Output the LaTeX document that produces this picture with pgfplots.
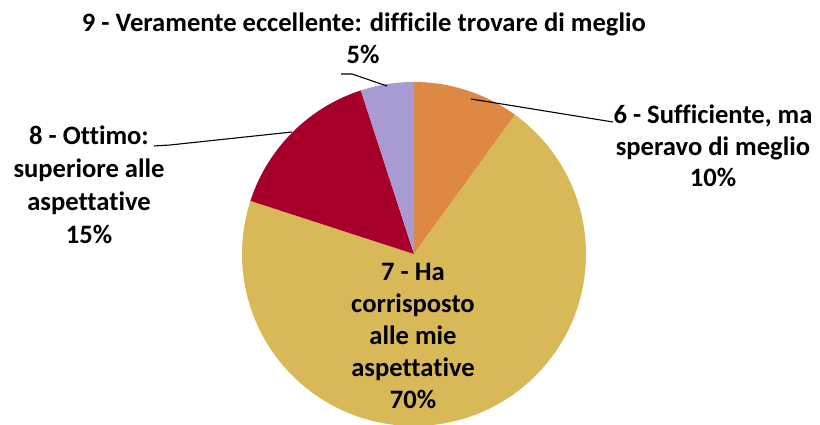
\documentclass[border=0pt]{standalone}
\usepackage{pgfplots}
\pgfplotsset{compat=1.18}
\usepackage{fontspec}
\setmainfont{Carlito}[Ligatures=NoCommon]
\definecolor{cSix}{RGB}{221,136,67}
\definecolor{cSeven}{RGB}{217,184,87}
\definecolor{cEight}{RGB}{166,0,42}
\definecolor{cNine}{RGB}{168,155,210}
% shares (percent), clockwise from 12 o'clock
\def\pSix{10}
\def\pSeven{70}
\def\pEight{15}
\def\pNine{5}
\def\R{172}
\pgfmathsetmacro{\aA}{90}
\pgfmathsetmacro{\aB}{\aA-3.6*\pSix}
\pgfmathsetmacro{\aC}{\aB-3.6*\pSeven}
\pgfmathsetmacro{\aD}{\aC-3.6*\pEight}
\pgfmathsetmacro{\aE}{\aD-3.6*\pNine}
\newcommand{\lbl}[3]{\node[anchor=base,inner sep=0pt,font=\fontsize{26.6}{32}\selectfont\bfseries] at (axis cs:#1,#2) {#3};}
\begin{document}
\begin{tikzpicture}
\begin{axis}[
  x=1pt, y=1pt, scale only axis,
  xmin=-414, xmax=406, ymin=-170, ymax=254,
  hide axis, clip=true,
]
\addplot[fill=cSix, draw=none, data cs=polar, domain=\aA:\aB, samples=30] {\R} -- (axis cs:0,0) -- cycle;
\addplot[fill=cSeven, draw=none, data cs=polar, domain=\aB:\aC, samples=150] {\R} -- (axis cs:0,0) -- cycle;
\addplot[fill=cEight, draw=none, data cs=polar, domain=\aC:\aD, samples=40] {\R} -- (axis cs:0,0) -- cycle;
\addplot[fill=cNine, draw=none, data cs=polar, domain=\aD:\aE, samples=20] {\R} -- (axis cs:0,0) -- cycle;
% leader lines
\draw[line width=1.1pt] (axis cs:-73,180) -- (axis cs:-62,180) -- (axis cs:-27,168);
\draw[line width=1.1pt] (axis cs:57,155) -- (axis cs:199,132);
\draw[line width=1.1pt] (axis cs:-260,108) -- (axis cs:-244,109) -- (axis cs:-122,122);
% labels
\lbl{-50}{222}{9 - Veramente eccellente: difficile trovare di meglio}
\lbl{-51}{190}{5\%}
\lbl{299}{131}{6 - Sufficiente, ma}
\lbl{299}{99}{speravo di meglio}
\lbl{299}{67}{10\%}
\lbl{-325}{110}{8 - Ottimo:}
\lbl{-325}{77}{superiore alle}
\lbl{-325}{44}{aspettative}
\lbl{-325}{11}{15\%}
\lbl{-1}{-26}{7 - Ha}
\lbl{-1}{-58}{corrisposto}
\lbl{-1}{-90}{alle mie}
\lbl{-1}{-122}{aspettative}
\lbl{-1}{-154}{70\%}
\end{axis}
\pgfresetboundingbox
\path[use as bounding box] (current axis.south west) rectangle (current axis.north east);
\end{tikzpicture}
\end{document}
